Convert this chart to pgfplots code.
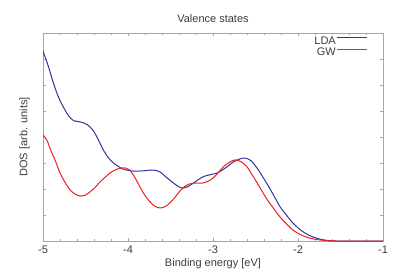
\documentclass[border=0pt]{standalone}
\usepackage{pgfplots}
\pgfplotsset{compat=1.18}
\usepackage{fontspec}
\setmainfont{Liberation Sans}
\definecolor{ldablue}{RGB}{50,50,160}
\definecolor{gwred}{RGB}{240,30,30}
\definecolor{txt}{RGB}{60,60,60}
\begin{document}
\begin{tikzpicture}
\begin{axis}[
  scale only axis, width=340pt, height=208pt,
  xmin=-5, xmax=-1, ymin=0, ymax=8,
  xtick={-5,-4,-3,-2,-1}, minor x tick num=4,
  ytick={0,1,...,8}, yticklabels={},
  tick align=inside, major tick length=3pt, minor tick length=2pt,
  axis line style={gray!70, line width=0.8pt},
  every tick/.style={gray!70, line width=0.5pt},
  /pgf/number format/assume math mode=true,
  tick label style={font=\fontsize{11}{13}\selectfont, text=txt},
  xticklabel style={yshift=-1pt},
  label style={font=\fontsize{11}{13}\selectfont, text=txt},
  title style={font=\fontsize{11}{13}\selectfont, text=txt, yshift=1pt},
  title={Valence states},
  xlabel={Binding energy [eV]},
  ylabel={DOS [arb. units]},
  ylabel style={yshift=3pt},
  xlabel style={yshift=2pt},
  legend style={draw=none, fill=none, at={(1,1)}, anchor=north east, xshift=-12pt, yshift=-1pt,
    font=\fontsize{11}{11}\selectfont, text=txt, row sep=0pt,
    nodes={inner sep=1pt}},
  legend cell align=right, legend plot pos=right,
  legend image code/.code={\draw[#1, line width=1pt] (6pt,3.8pt) -- (36pt,3.8pt);},
]
\addplot[draw=ldablue, line width=1pt, smooth] coordinates {
(-5.00,7.30) (-4.94,6.75) (-4.88,6.10) (-4.82,5.55) (-4.76,5.15) (-4.70,4.82) (-4.64,4.63)
(-4.56,4.58) (-4.48,4.48) (-4.41,4.25) (-4.35,3.90) (-4.29,3.50) (-4.23,3.20) (-4.17,3.00)
(-4.06,2.77) (-3.94,2.69) (-3.82,2.70) (-3.70,2.73) (-3.62,2.65) (-3.55,2.45) (-3.46,2.22)
(-3.40,2.08) (-3.35,2.04) (-3.29,2.10) (-3.23,2.23) (-3.11,2.48) (-2.95,2.62) (-2.85,2.82)
(-2.76,3.04) (-2.68,3.16) (-2.62,3.19) (-2.55,3.08) (-2.47,2.75) (-2.37,2.23) (-2.29,1.78)
(-2.21,1.31) (-2.13,0.97) (-2.06,0.69) (-1.98,0.45) (-1.90,0.27) (-1.82,0.15) (-1.74,0.07)
(-1.65,0.02) (-1.55,0.00) (-1.30,0.00) (-1.00,0.00)
};
\addlegendentry{LDA}
\addplot[draw=gwred, line width=1pt, smooth] coordinates {
(-5.00,4.08) (-4.95,3.85) (-4.91,3.50) (-4.85,3.05) (-4.80,2.62) (-4.74,2.25) (-4.68,1.96)
(-4.62,1.80) (-4.56,1.73) (-4.50,1.77) (-4.45,1.88) (-4.39,2.05) (-4.33,2.27) (-4.27,2.45)
(-4.21,2.62) (-4.14,2.75) (-4.07,2.81) (-4.02,2.80) (-3.98,2.73) (-3.92,2.45) (-3.86,2.08)
(-3.80,1.75) (-3.74,1.50) (-3.68,1.33) (-3.62,1.27) (-3.56,1.33) (-3.51,1.46) (-3.45,1.67)
(-3.40,1.88) (-3.34,2.08) (-3.28,2.19) (-3.20,2.23) (-3.12,2.23) (-3.06,2.30) (-3.00,2.42)
(-2.94,2.62) (-2.88,2.85) (-2.81,3.02) (-2.74,3.12) (-2.67,3.05) (-2.60,2.85) (-2.54,2.55)
(-2.48,2.23) (-2.42,1.90) (-2.36,1.58) (-2.28,1.22) (-2.21,0.92) (-2.13,0.64) (-2.06,0.42)
(-1.98,0.26) (-1.90,0.15) (-1.82,0.08) (-1.74,0.04) (-1.65,0.01) (-1.55,0.00) (-1.30,0.00) (-1.00,0.00)
};
\addlegendentry{GW}
\end{axis}
\path[use as bounding box] (-43pt,-36pt) rectangle (352pt,241pt);
\end{tikzpicture}
\end{document}
